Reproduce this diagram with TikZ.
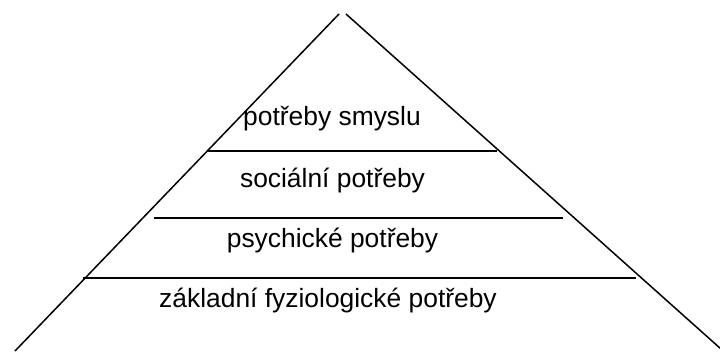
\documentclass[tikz,border=0pt]{standalone}
\usepackage{fontspec}
\setmainfont{Liberation Sans}
\begin{document}
\begin{tikzpicture}[x=1pt,y=-1pt,
  edge/.style={line width=1.5pt, black},
  lbl/.style={anchor=base, inner sep=0pt, font=\fontsize{26.4}{30}\selectfont}]
\useasboundingbox (0,0) rectangle (720,351);
\coordinate (lt) at (339,14);
\coordinate (lb) at (15,351);
\coordinate (rt) at (346,14);
\coordinate (rb) at (721,349);
\draw[edge] (lt) -- (lb);
\draw[edge] (rt) -- (rb);
\coordinate (a1) at (208,151); \coordinate (b1) at (497,151);
\coordinate (a2) at (154,218); \coordinate (b2) at (563,218);
\coordinate (a3) at (83,278);  \coordinate (b3) at (636,278);
\draw[edge] (a1) -- (b1);
\draw[edge] (a2) -- (b2);
\draw[edge] (a3) -- (b3);
\node[lbl] (t1) at (332,125) {potřeby smyslu};
\node[lbl] (t2) at (332.5,187) {sociální potřeby};
\node[lbl] (t3) at (332.5,247) {psychické potřeby};
\node[lbl] (t4) at (328,307) {základní fyziologické potřeby};
\end{tikzpicture}
\end{document}
